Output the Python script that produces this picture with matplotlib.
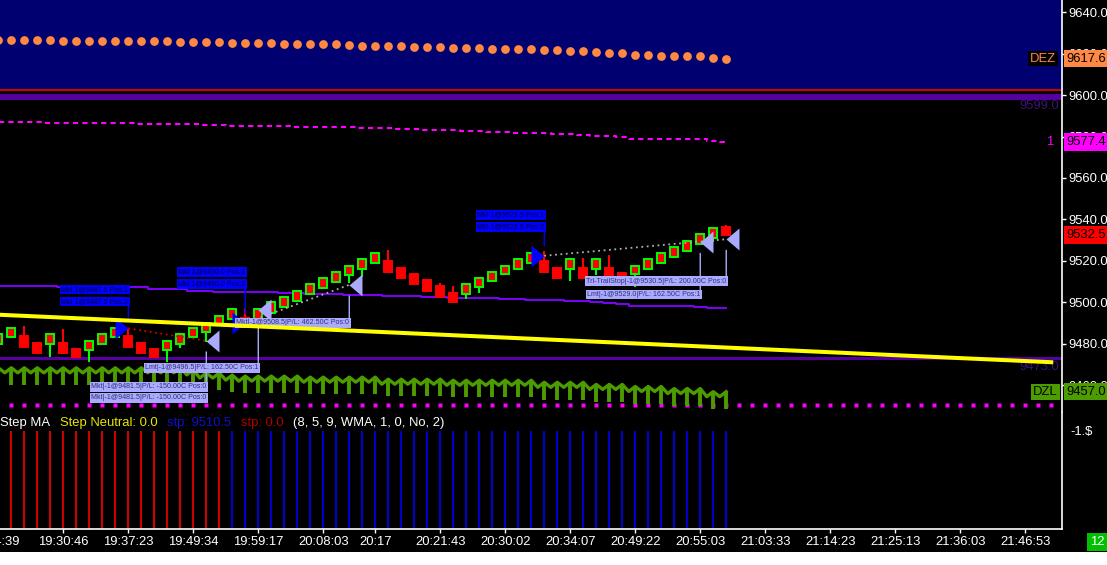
import matplotlib
matplotlib.use('Agg')
import matplotlib.pyplot as plt
from matplotlib.patches import Rectangle

plt.rcParams['font.family'] = ['Liberation Sans', 'DejaVu Sans']

# ---- values (bar -1 is the half hidden one at the left edge)
bars = list(range(-1, 56))
opens = [9480.0, 9483.5, 9484.0, 9480.5, 9480.0, 9480.5, 9477.5, 9477.0, 9480.0, 9483.5,
         9484.0, 9480.5, 9477.5, 9477.0, 9480.0, 9483.5, 9486.0, 9489.5, 9492.0, 9492.5,
         9492.0, 9495.0, 9498.0, 9500.5, 9504.0, 9507.0, 9510.0, 9513.0, 9516.0, 9519.0,
         9520.0, 9516.5, 9513.5, 9511.0, 9508.0, 9504.5, 9504.0, 9507.5, 9510.5, 9513.5,
         9516.0, 9519.0, 9520.0, 9516.5, 9516.0, 9516.5, 9516.0, 9516.5, 9514.0, 9513.5,
         9516.0, 9519.0, 9522.0, 9525.0, 9528.0, 9531.0, 9536.5]
highs = [9485.0, 9487.5, 9488.5, 9480.5, 9485.0, 9487.0, 9477.5, 9481.5, 9485.0, 9487.5,
         9487.0, 9481.0, 9477.5, 9481.5, 9485.0, 9487.5, 9490.0, 9493.5, 9497.0, 9497.5,
         9497.0, 9500.0, 9502.5, 9505.5, 9509.0, 9512.0, 9514.5, 9517.5, 9521.0, 9524.0,
         9525.5, 9516.5, 9513.5, 9511.0, 9509.5, 9508.0, 9509.0, 9512.0, 9514.5, 9517.5,
         9521.0, 9524.0, 9525.0, 9516.5, 9521.0, 9521.5, 9521.0, 9523.0, 9514.0, 9517.5,
         9521.0, 9524.0, 9526.5, 9529.5, 9533.0, 9536.0, 9537.5]
lows = [9480.0, 9483.5, 9478.5, 9475.5, 9473.5, 9475.5, 9473.5, 9471.5, 9480.0, 9483.5,
        9478.5, 9475.5, 9473.5, 9471.5, 9478.0, 9483.5, 9481.0, 9489.5, 9492.0, 9488.0,
        9492.0, 9495.0, 9498.0, 9500.5, 9504.0, 9507.0, 9510.0, 9509.5, 9512.5, 9519.0,
        9514.5, 9512.0, 9509.0, 9505.5, 9502.5, 9500.0, 9501.5, 9504.5, 9510.5, 9513.5,
        9516.0, 9519.0, 9514.5, 9512.0, 9510.5, 9512.0, 9513.0, 9512.0, 9509.5, 9507.5,
        9516.0, 9519.0, 9522.0, 9525.0, 9528.0, 9529.0, 9532.5]
closes = [9485.0, 9487.5, 9478.5, 9475.5, 9485.0, 9475.5, 9473.5, 9481.5, 9485.0, 9487.5,
          9478.5, 9475.5, 9473.5, 9481.5, 9485.0, 9487.5, 9490.0, 9493.5, 9497.0, 9488.0,
          9497.0, 9500.0, 9502.5, 9505.5, 9509.0, 9512.0, 9514.5, 9517.5, 9521.0, 9524.0,
          9514.5, 9512.0, 9509.0, 9505.5, 9502.5, 9500.0, 9509.0, 9512.0, 9514.5, 9517.5,
          9521.0, 9524.0, 9514.5, 9512.0, 9521.0, 9512.0, 9521.0, 9512.0, 9509.5, 9517.5,
          9521.0, 9524.0, 9526.5, 9529.5, 9533.0, 9536.0, 9532.5]

# upper zone dots (DEZ)
dez = [9626.6] * 5 + [9626.2] * 9 + [9625.7] * 4 + [9625.2] * 4 + [9624.7] * 5 + [9624.2] + \
      [9623.8] * 4 + [9623.3] * 3 + [9622.8] * 3 + [9622.3] + [9622.2] * 3 + [9621.7] * 2 + \
      [9621.2] * 2 + [9620.9] + [9620.4] * 2 + [9619.4] * 2 + [9618.9] * 4 + [9617.8, 9617.6]
# magenta dashed line
mid_line = [9587.1] * 4 + [9586.7] * 7 + [9586.2] * 5 + [9585.7] * 2 + [9585.1] * 5 + \
           [9584.6] * 5 + [9584.0] * 3 + [9583.8, 9583.5, 9583.3, 9583.1, 9582.9, 9582.7, 9582.5, 9582.3] + \
           [9582.2] + [9581.8] * 3 + [9581.4] * 2 + [9580.9] + [9580.4] * 2 + [9579.8] + \
           [9578.9] * 6 + [9578.0, 9577.4]
# thin violet line
violet_line = [9508.0] * 5 + [9507.3] * 7 + [9506.4] * 3 + [9505.7] * 2 + [9505.2] * 5 + \
              [9504.4] * 2 + [9504.0] * 3 + [9503.5] * 3 + [9503.0] * 3 + [9502.5] * 2 + \
              [9502.0] * 4 + [9501.5] * 2 + [9501.1] * 3 + [9500.6] * 2 + [9500.1, 9499.6, 9499.1] + \
              [9498.5] * 5 + [9498.0] + [9497.5] * 2
# lower zone (DZL)
dzl = [9468.5] * 15 + [9467.5] + [9466.0] * 2 + [9465.0] + [9464.5] * 5 + [9464.0] * 6 + \
      [9463.0] * 5 + [9462.5] * 7 + [9461.5] * 4 + [9460.5] * 3 + [9459.5] * 3 + [9458.5] * 3 + \
      [9457.0] * 2
# yellow projected line (two ends), magenta stop dots, fixed levels
yellow_bars = [-1, 80]
yellow_vals = [9494.1, 9471.2]
dot_bars = list(range(0, 81))
dot_level = 9450.6
red_level = 9602.4
upper_level = 9599.0
lower_level = 9473.0

# trades
entry_bars = [9, 18, 41]
entry_prices = [9487.5, 9490.0, 9522.5]
exit_bars = [15, 19, 26, 53, 55]
exit_prices = [9481.5, 9496.5, 9508.5, 9529.0, 9530.5]
exit_labels = ['Mkt|-1@9481.5|P/L: -150.00C Pos:0',
               'Lmt|-1@9496.5|P/L: 162.50C Pos:1',
               'Mkt|-1@9508.5|P/L: 462.50C Pos:0',
               'Lmt|-1@9529.0|P/L: 162.50C Pos:1',
               'Trl-TrailStop|-1@9530.5|P/L: 200.00C Pos:0']
trade_last_exit = [0, 2, 4]

# indicator panel
step_bars = list(range(0, 56))
step_dir = [-1] * 17 + [1] * 39

tick_bars = [4, 9, 14, 19, 24, 28, 33, 38, 43, 48, 53, 58, 63, 68, 73, 78]
tick_labels = ['19:30:46', '19:37:23', '19:49:34', '19:59:17', '20:08:03', '20:17', '20:21:43',
               '20:30:02', '20:34:07', '20:49:22', '20:55:03', '21:03:33', '21:14:23',
               '21:25:13', '21:36:03', '21:46:53']
first_tick_bar = -1.3
first_tick_label = '19:24:39'
price_ticks = [9460, 9480, 9500, 9520, 9540, 9560, 9580, 9600, 9620, 9640]

# ---- layout
W, H = 1107.0, 565.0
PX = 0.72  # points per pixel at dpi 100
FS = 9.4
LFS = 5.1  # trade label font

fig = plt.figure(figsize=(W / 100, H / 100), dpi=100, facecolor='black')
ax = fig.add_axes([0, (H - 412) / H, 1062 / W, 412 / H], facecolor='black')
axi = fig.add_axes([0, (H - 529) / H, 1062 / W, 117 / H], facecolor='black')
fig.patches.append(Rectangle((0, 0), 1, 13 / H, transform=fig.transFigure,
                             facecolor='white', edgecolor='none'))

ax.set_xlim(-0.87, 80.83)
ax.set_ylim(9447.2, 9645.8)
axi.set_xlim(-0.87, 80.83)
axi.set_ylim(0, -1.19)

# background zones
ax.axhspan(9602.8, 9700, color='#000070', lw=0, zorder=0)
ax.axhline(red_level, color='#ff0000', lw=1.2, zorder=1)
ax.axhline(upper_level, color='#55009f', lw=4.3, zorder=1)
ax.axhline(lower_level, color='#55009f', lw=2.2, zorder=1)

# indicator lines
ax.plot(bars, dez, ls='none', marker='o', ms=6.3, color='#ff8844', mec='none', zorder=2)
ax.plot(bars, mid_line, color='#ff00ff', lw=1.5, dashes=(2.5, 2), drawstyle='steps-mid', zorder=2)
ax.plot(bars, violet_line, color='#7f00ff', lw=1.4, drawstyle='steps-mid', zorder=2)
ax.plot(dot_bars, [dot_level] * len(dot_bars), ls='none', marker='s', ms=3,
        color='#ff00ff', mec='none', zorder=2)

# DZL zigzag with stems
zx, zy = [], []
for k, b in enumerate(bars):
    zx.append(b)
    zy.append(dzl[k])
    if k < len(bars) - 1:
        zx.append(b + 0.5)
        zy.append(min(dzl[k], dzl[k + 1]) - 2.4)
ax.plot(zx, zy, color='#4c9c00', lw=2.4, zorder=2)
ax.vlines(bars, [d - 8.3 for d in dzl], dzl, color='#4c9c00', lw=2.8, zorder=2)

# candles
up = [c >= o for o, c in zip(opens, closes)]
ax.vlines(bars, lows, highs, colors=['#00ff00' if u else '#ff0000' for u in up], lw=1.5, zorder=3)
ax.bar(bars, [abs(c - o) for o, c in zip(opens, closes)],
       bottom=[min(o, c) for o, c in zip(opens, closes)], width=0.64,
       color='#ff0000', edgecolor=['#00ff00' if u else '#ff0000' for u in up],
       linewidth=1.4, zorder=4)

# trades
right_tri = [(-1.18, -1), (0, 0), (-1.18, 1)]
left_tri = [(1.18, -1), (0, 0), (1.18, 1)]
for k, e in enumerate(trade_last_exit):
    col = '#d00000' if exit_prices[e] < entry_prices[k] else '#b0b0b0'
    ax.plot([entry_bars[k], exit_bars[e]], [entry_prices[k], exit_prices[e]],
            color=col, lw=1.3, ls=(0, (1, 2)), zorder=5)
ax.plot(entry_bars, entry_prices, ls='none', marker=right_tri, ms=18.7,
        color='#0000ff', mec='none', zorder=6)
ax.plot(exit_bars, exit_prices, ls='none', marker=left_tri, ms=18.7,
        color='#aaaaff', mec='none', zorder=6)

entry_rise = [27, 39, 29]
for k, (b, p) in enumerate(zip(entry_bars, entry_prices)):
    for j, pos in enumerate((2, 1)):
        arrow = dict(arrowstyle='-', color='#0000ff', lw=1, shrinkA=0, shrinkB=7,
                     relpos=(1, 0)) if j == 0 else None
        ax.annotate(f'Mkt 1@{p:.1f} Pos:{pos}', xy=(b, p),
                    xytext=(0, (entry_rise[k] + 12 * j) * PX), textcoords='offset points',
                    ha='right', va='center', fontsize=LFS, color='#000030',
                    bbox=dict(boxstyle='square,pad=0.18', fc='#0000ff', ec='none'),
                    arrowprops=arrow, zorder=8)

exit_drop = [46, 58, 38, 52, 42]
for k, (b, p) in enumerate(zip(exit_bars, exit_prices)):
    copies = 2 if k == 0 else 1
    for j in range(copies):
        arrow = dict(arrowstyle='-', color='#aaaaff', lw=1, shrinkA=0, shrinkB=8,
                     relpos=(1, 1)) if j == 0 else None
        ax.annotate(exit_labels[k], xy=(b, p),
                    xytext=(0, -(exit_drop[k] + 11 * j) * PX), textcoords='offset points',
                    ha='right', va='center', fontsize=LFS, color='#303078',
                    bbox=dict(boxstyle='square,pad=0.18', fc='#aaaaff', ec='none'),
                    arrowprops=arrow, zorder=8)

ax.plot(yellow_bars, yellow_vals, color='#ffff00', lw=2.9, zorder=9)

# level captions inside the chart
ax.annotate(f'{upper_level:.1f}', xy=(1, upper_level), xycoords=('axes fraction', 'data'),
            xytext=(-2, -2), textcoords='offset points', ha='right', va='top',
            color='#3a1478', fontsize=FS)
ax.annotate(f'{lower_level:.1f}', xy=(1, lower_level), xycoords=('axes fraction', 'data'),
            xytext=(-2, -2), textcoords='offset points', ha='right', va='top',
            color='#3a1478', fontsize=FS)
ax.annotate('DEZ', xy=(1, dez[-1]), xycoords=('axes fraction', 'data'), xytext=(-4, 0),
            textcoords='offset points', ha='right', va='center', color='#ff8844', fontsize=FS,
            bbox=dict(boxstyle='square,pad=0.15', fc='black', ec='none'), zorder=10)
ax.annotate('DZL', xy=(1, dzl[-1]), xycoords=('axes fraction', 'data'), xytext=(-3, 0),
            textcoords='offset points', ha='right', va='center', color='black', fontsize=FS,
            bbox=dict(boxstyle='square,pad=0.15', fc='#4c9c00', ec='none'), zorder=10)
ax.annotate('1', xy=(1, mid_line[-1]), xycoords=('axes fraction', 'data'), xytext=(-6, 0),
            textcoords='offset points', ha='right', va='center', color='#ff00ff', fontsize=FS)

# value tags on the price scale
for val, fc in [(dez[-1], '#ff8844'), (mid_line[-1], '#ff00ff'),
                (closes[-1], '#ff0000'), (dzl[-1], '#4c9c00')]:
    ax.annotate(f'{val:.1f}', xy=(1, val), xycoords=('axes fraction', 'data'), xytext=(3, 0),
                textcoords='offset points', ha='left', va='center', color='black', fontsize=FS,
                bbox=dict(boxstyle='square,pad=0.2', fc=fc, ec='none'),
                annotation_clip=False, zorder=10)

# axes styling
for a in (ax, axi):
    for s in a.spines.values():
        s.set_visible(False)
    a.spines['right'].set_visible(True)
    a.spines['right'].set_color('white')
    a.spines['right'].set_linewidth(1.2)
axi.spines['bottom'].set_visible(True)
axi.spines['bottom'].set_color('white')
axi.spines['bottom'].set_linewidth(1.2)

ax.set_xticks([])
ax.yaxis.tick_right()
ax.set_yticks(price_ticks, [f'{v:.1f}' for v in price_ticks])
ax.tick_params(axis='y', colors='white', length=3, width=1, pad=1.5, labelsize=FS)

# indicator panel
axi.vlines(step_bars, 0, -1, colors=['#cc0000' if d < 0 else '#0000cc' for d in step_dir], lw=1.5)
axi.yaxis.tick_right()
axi.set_yticks([-1], ['-1.$'])
axi.tick_params(axis='y', colors='white', length=0, pad=6, labelsize=FS)
axi.set_xticks(tick_bars, tick_labels)
axi.tick_params(axis='x', colors='white', length=3, width=1, pad=2, labelsize=FS)
axi.annotate(first_tick_label, xy=(first_tick_bar, 0), xycoords=('data', 'axes fraction'),
             xytext=(0, -5), textcoords='offset points', ha='center', va='top',
             color='white', fontsize=FS, annotation_clip=False)

t = axi.text(0, 0.906, 'Step MA', transform=axi.transAxes, color='white', fontsize=FS,
             ha='left', va='center')
for txt, col in [('Step Neutral: 0.0', '#e6e600'), ('stp: 9510.5', '#1010c8'),
                 ('stp: 0.0', '#b00000'), ('(8, 5, 9, WMA, 1, 0, No, 2)', 'white')]:
    t = axi.annotate(txt, xy=(1, 0.5), xycoords=t, xytext=(7, 0), textcoords='offset points',
                     ha='left', va='center', color=col, fontsize=FS)

fig.text(1090 / W, (H - 542) / H, '12', color='white', fontsize=FS, ha='left', va='center',
         bbox=dict(boxstyle='square,pad=0.25', fc='#00c000', ec='none'))

fig.savefig('out.png', dpi=100, facecolor=fig.get_facecolor())
